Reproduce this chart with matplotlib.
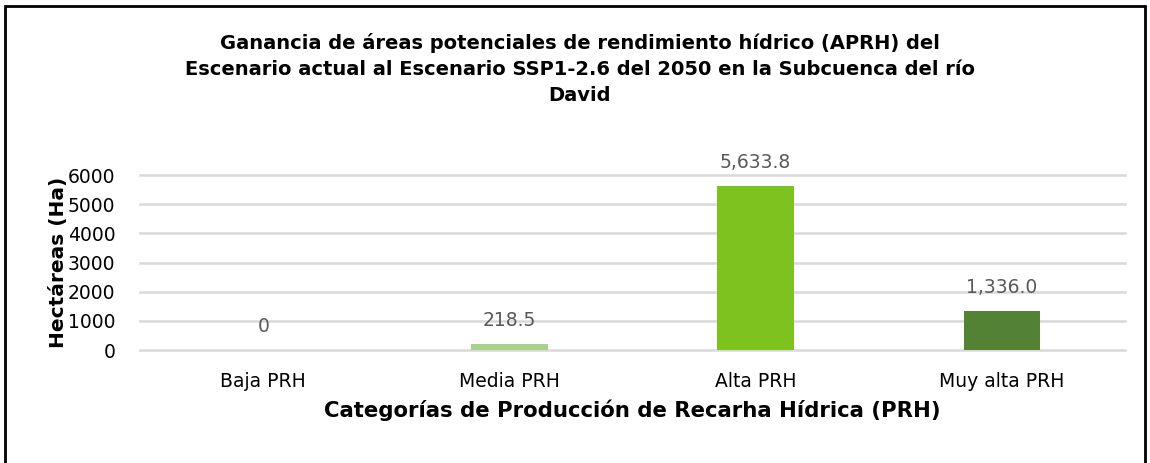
import matplotlib
matplotlib.use("Agg")
from matplotlib import pyplot as plt
from matplotlib.patches import Rectangle

# -- data --

categories = ["Baja PRH", "Media PRH", "Alta PRH", "Muy alta PRH"]
values = [0, 218.5, 5633.8, 1336.0]
value_labels = ["0", "218.5", "5,633.8", "1,336.0"]
bar_colors = ["#A9D18E", "#A9D18E", "#7DC21E", "#548235"]
y_ticks = [0, 1000, 2000, 3000, 4000, 5000, 6000]

title = ("Ganancia de áreas potenciales de rendimiento hídrico (APRH) del\n"
         "Escenario actual al Escenario SSP1-2.6 del 2050 en la Subcuenca del río\n"
         "David")

# -- plot --

plt.rcParams["font.family"] = ["DejaVu Sans"]

fig = plt.figure(figsize=(11.5, 4.63), dpi=100)
ax = fig.add_axes([0.122, 0.244, 0.856, 0.378])

x = range(len(categories))
ax.bar(x, values, width=0.31, color=bar_colors, zorder=3)

for i, v in enumerate(values):
    ax.annotate(value_labels[i], (i, v), xytext=(0, 10), textcoords="offset points",
                ha="center", va="bottom", fontsize=13.5, color="#595959")

ax.set_xlim(-0.5, len(categories) - 0.5)
ax.set_ylim(0, 6000)
ax.set_yticks(y_ticks)
ax.set_xticks(list(x))
ax.set_xticklabels(categories, fontsize=13.5)
ax.tick_params(axis="y", labelsize=13.5, length=0, pad=18)
ax.tick_params(axis="x", length=0, pad=16)
ax.grid(axis="y", color="#D9D9D9", linewidth=1.8, zorder=0)
for gl in ax.get_ygridlines():
    gl.set_clip_on(False)
for s in ax.spines.values():
    s.set_visible(False)

ax.set_ylabel("Hectáreas (Ha)", fontsize=14.5, fontweight="bold", labelpad=0)
ax.set_xlabel("Categorías de Producción de Recarha Hídrica (PRH)", fontsize=15.3,
              fontweight="bold", labelpad=6)

fig.text(0.504, 0.851, title, ha="center", va="center", fontsize=14,
         fontweight="bold", linespacing=1.45)

# border round the chart
fig.patches.append(Rectangle((0.004, -0.01), 0.992, 0.998, transform=fig.transFigure,
                             fill=False, edgecolor="black", linewidth=2))

fig.savefig("out.png", dpi=100)
